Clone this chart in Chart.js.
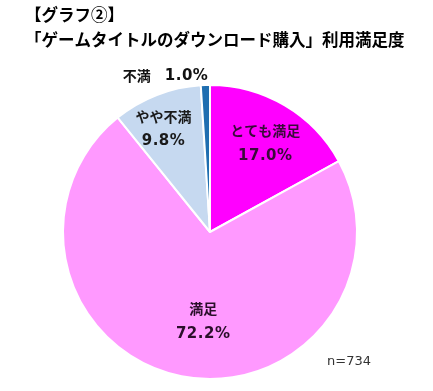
<!DOCTYPE html>
<html>
<head>
<meta charset="utf-8">
<script src="https://cdn.jsdelivr.net/npm/chart.js@4"></script>
<style>
html,body{margin:0;padding:0;background:#fff;}
#wrap{width:433px;height:391px;position:relative;}
</style>
</head>
<body>
<div id="wrap"><canvas id="c" width="433" height="391"></canvas></div>
<script>
const titleLines = ["【グラフ②】", "「ゲームタイトルのダウンロード購入」利用満足度"];
const categories = ["とても満足", "満足", "やや不満", "不満"];
const values = [17.0, 72.2, 9.8, 1.0];
const valueLabels = ["17.0%", "72.2%", "9.8%", "1.0%"];
const sampleNote = "n=734";

const colors = ["#FF00FF", "#FF99FF", "#C6D9F0", "#1F6EB0"];
const labelColors = ["#3a0a3a", "#2a0f2a", "#1a1a1a", "#111"];
// label placement: [radius fraction, angle offset (deg)], null = outside
const labelPlace = [[0.71, 1.4], [0.61, -6.8], [0.77, -3], null];

const FONT_JP = '"Noto Sans CJK JP", "Noto Sans", sans-serif';

const labelPlugin = {
  id: 'labels',
  afterDatasetsDraw(chart) {
    const ctx = chart.ctx;
    const meta = chart.getDatasetMeta(0);
    ctx.save();
    ctx.textBaseline = 'middle';
    meta.data.forEach((arc, i) => {
      const p = arc.getProps(['x', 'y', 'startAngle', 'endAngle', 'outerRadius'], true);
      const mid = (p.startAngle + p.endAngle) / 2;
      const place = labelPlace[i];
      ctx.fillStyle = labelColors[i];
      if (place) {
        const a = mid + place[1] * Math.PI / 180;
        const r = p.outerRadius * place[0];
        const x = p.x + Math.cos(a) * r;
        const y = p.y + Math.sin(a) * r;
        ctx.textAlign = 'center';
        ctx.font = 'bold 14px ' + FONT_JP;
        ctx.letterSpacing = '0px';
        ctx.fillText(categories[i], x, y - 12.5);
        ctx.font = 'bold 15px "DejaVu Sans", "Noto Sans", sans-serif';
        ctx.letterSpacing = '0.5px';
        ctx.fillText(valueLabels[i], x, y + 12.5);
      } else {
        const x = p.x + Math.cos(mid) * p.outerRadius;
        const y = p.y + Math.sin(mid) * p.outerRadius;
        ctx.textAlign = 'right';
        ctx.font = 'bold 15px "DejaVu Sans", "Noto Sans", sans-serif';
        ctx.letterSpacing = '0.5px';
        ctx.fillText(valueLabels[i], x + 3, y - 9);
        const w = ctx.measureText(valueLabels[i]).width;
        ctx.font = 'bold 14px ' + FONT_JP;
        ctx.letterSpacing = '0px';
        ctx.fillText(categories[i], x + 3 - w - 14, y - 9);
      }
    });
    ctx.restore();
  }
};

const titlePlugin = {
  id: 'titles',
  afterDraw(chart) {
    const ctx = chart.ctx;
    ctx.save();
    ctx.fillStyle = '#000';
    ctx.textAlign = 'left';
    ctx.textBaseline = 'middle';
    ctx.font = 'bold 16.5px ' + FONT_JP;
    ctx.fillText(titleLines[0], 25, 15);
    ctx.fillText(titleLines[1], 25, 40);
    ctx.font = '13px "DejaVu Sans", sans-serif';
    ctx.fillStyle = '#333';
    ctx.fillText(sampleNote, 327, 362);
    ctx.restore();
  }
};

new Chart(document.getElementById('c'), {
  type: 'pie',
  data: {
    labels: categories,
    datasets: [{
      data: values,
      backgroundColor: colors,
      borderColor: '#ffffff',
      borderWidth: 2
    }]
  },
  options: {
    responsive: false,
    animation: false,
    layout: { padding: { left: 62, right: 75, top: 84, bottom: 11 } },
    plugins: {
      legend: { display: false },
      tooltip: { enabled: false },
      title: { display: false }
    }
  },
  plugins: [labelPlugin, titlePlugin]
});
</script>
</body>
</html>
